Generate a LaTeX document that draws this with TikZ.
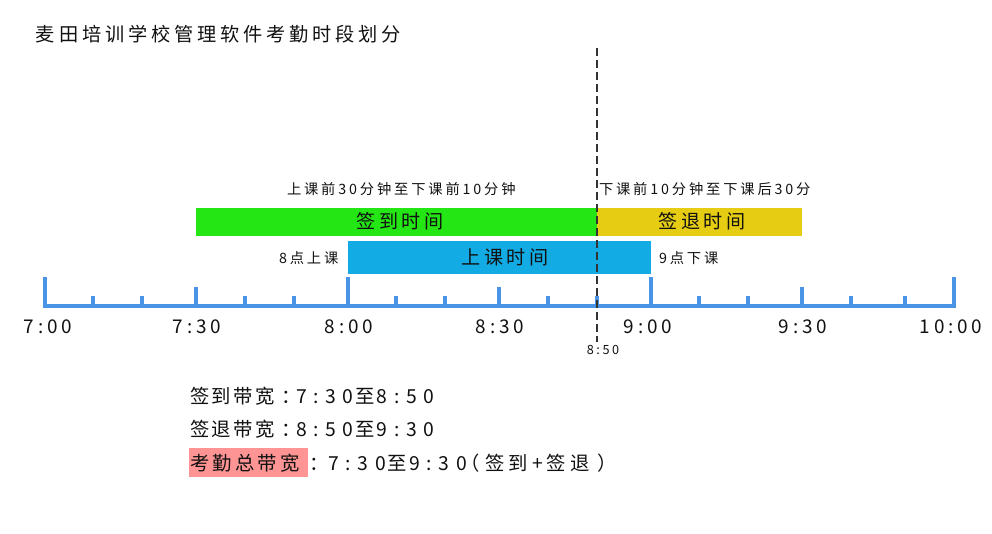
\documentclass[tikz,border=0pt]{standalone}
\usepackage{fontspec}
\setmainfont{Noto Sans CJK SC}
\newfontfamily\cjk[LetterSpace=20]{Noto Sans CJK SC}
\newfontfamily\plainf{Noto Sans CJK SC}
\newcommand\fpx[1]{\fontsize{#1}{#1}\selectfont}
\makeatletter
\newcommand\trk[2]{\def\trk@gap{#1}\trk@a#2\@nil}
\def\trk@a#1{\ifx\@nil#1\else#1\expandafter\trk@b\fi}
\def\trk@b#1{\ifx\@nil#1\else\hspace{\trk@gap}#1\expandafter\trk@b\fi}
\makeatother
\definecolor{txt}{HTML}{111111}
\definecolor{axisc}{HTML}{4A94E6}
\definecolor{greenc}{HTML}{24E614}
\definecolor{yellowc}{HTML}{E6CC12}
\definecolor{bluec}{HTML}{12ABE4}
\definecolor{redc}{HTML}{FF9494}
\definecolor{dashc}{HTML}{333333}
\tikzset{
  lbl/.style={inner sep=0pt, outer sep=0pt, text=txt, font=\cjk\fpx{10.7pt}},
  biglbl/.style={inner sep=0pt, outer sep=0pt, text=txt, font=\cjk\fpx{13.5pt}},
  note/.style={inner sep=0pt, outer sep=0pt, text=txt, font=\plainf\fpx{14.5pt}, anchor=west},
  ticklbl/.style={inner sep=0pt, outer sep=0pt, text=txt, font=\cjk\fpx{14.2pt}},
  axisline/.style={draw=axisc, line width=3pt},
}
\begin{document}
\begin{tikzpicture}[x=0.75pt,y=-0.75pt]
\useasboundingbox[fill=white] (0,0) rectangle (992,534);
% title
\node[biglbl, anchor=west, font=\cjk\fpx{14.4pt}] (title) at (36,34) {麦田培训学校管理软件考勤时段划分};
% bars
\fill[greenc] (196,208) rectangle (597,236);
\fill[yellowc] (597,208) rectangle (802,236);
\fill[bluec] (348,241) rectangle (651,274);
\node[biglbl, font=\cjk\fpx{14.3pt}] (qd) at (400,221) {签到时间};
\node[biglbl, font=\cjk\fpx{14.3pt}] (qt) at (702,221) {签退时间};
\node[biglbl, font=\cjk\fpx{14.3pt}] (sk) at (505,257) {上课时间};
% labels above
\node[lbl, anchor=west] (l1) at (287,189) {上课前30分钟至下课前10分钟};
\node[lbl, anchor=west] (l2) at (599,189) {下课前10分钟至下课后30分};
\node[lbl, anchor=west] (l3) at (279,258) {8点上课};
\node[lbl, anchor=west] (l4) at (659,258) {9点下课};
% axis
\draw[axisline] (45,277) -- (45,306) -- (954,306) -- (954,277);
\foreach \x in {348,651} \draw[axisline] (\x,306) -- (\x,277);
\foreach \x in {196,499,802} \draw[axisline] (\x,306) -- (\x,287);
\foreach \x in {93,142,245,294,396,445,548,597,699,748,851,905} \draw[axisline] (\x,306) -- (\x,296);
% tick labels
\node[ticklbl] (t700) at (48,327) {7:00};
\node[ticklbl] (t730) at (197,327) {7:30};
\node[ticklbl] (t800) at (349,327) {8:00};
\node[ticklbl] (t830) at (500,327) {8:30};
\node[ticklbl] (t900) at (648,327) {9:00};
\node[ticklbl] (t930) at (803,327) {9:30};
\node[ticklbl] (t1000) at (951,327) {10:00};
\node[lbl, font=\cjk\fpx{9.5pt}] (t850) at (603,350) {8:50};
% dashed line
\draw[dashc, line width=1.4pt, dash pattern=on 6pt off 3pt] (597,48) -- (597,342);
% bottom notes
\fill[redc] (189,448) rectangle (308,477);
\node[note] (n1) at (190,396) {\trk{2pt}{签到带宽}\hspace{5pt}：\hspace{-4pt}\trk{5pt}{7:30}\hspace{1.5pt}至\hspace{1.5pt}\trk{5pt}{8:50}};
\node[note] (n2) at (190,429) {\trk{2pt}{签退带宽}\hspace{5pt}：\hspace{-4pt}\trk{5pt}{8:50}\hspace{1.5pt}至\hspace{1.5pt}\trk{5pt}{9:30}};
\node[note] (n3) at (190,463) {\trk{2.5pt}{考勤总带宽}\hspace{6.8pt}：\hspace{0pt}\trk{5pt}{7:30}\hspace{1.5pt}至\hspace{1.5pt}\trk{5pt}{9:30}\hspace{-4.5pt}（\hspace{4pt}\trk{3pt}{签到+签退}\hspace{6pt}）};
\end{tikzpicture}
\end{document}
